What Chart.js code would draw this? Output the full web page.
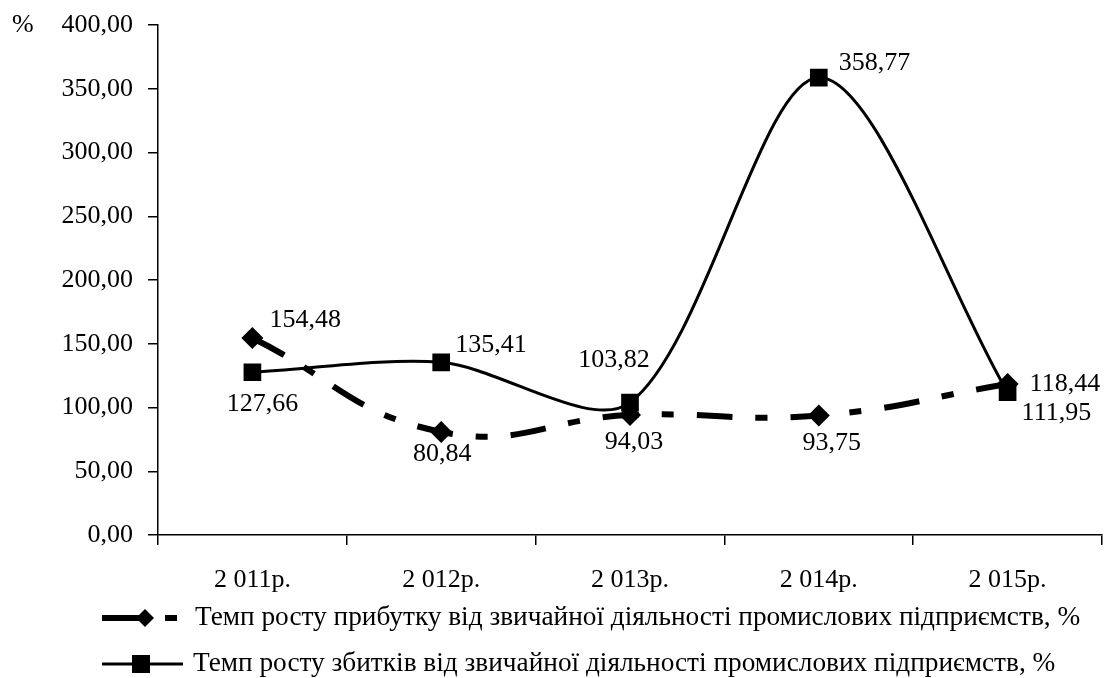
<!DOCTYPE html>
<html>
<head>
<meta charset="utf-8">
<script src="https://cdn.jsdelivr.net/npm/chart.js@4.4.0/dist/chart.umd.min.js"></script>
<style>
  html, body { margin: 0; padding: 0; background: #fff; overflow: hidden; }
  canvas { display: block; }
</style>
</head>
<body>
<canvas id="chart" width="1105" height="678"></canvas>
<script>
// Data
const years = ['2 011р.', '2 012р.', '2 013р.', '2 014р.', '2 015р.'];
const profitGrowth = [154.48, 80.84, 94.03, 93.75, 118.44];
const lossGrowth = [127.66, 135.41, 103.82, 358.77, 111.95];
const profitName = 'Темп росту прибутку від звичайної діяльності промислових підприємств, %';
const lossName = 'Темп росту збитків від звичайної діяльності промислових підприємств, %';
const yTicks = [0, 50, 100, 150, 200, 250, 300, 350, 400];

const FONT = "'Liberation Serif', 'Times New Roman', serif";
const fmt = v => v.toFixed(2).replace('.', ',');

Chart.defaults.font.family = FONT;
Chart.defaults.font.size = 26;
Chart.defaults.color = '#000';

// label offsets per point: [dx, dy, align]
const labelPos = [
  [[17, -18, 'left'], [1, 22, 'center'], [4, 27, 'center'], [13, 28, 'center'], [22, 0, 'left']],
  [[10, 32, 'center'], [14, -17, 'left'], [-16, -42, 'center'], [20, -14, 'left'], [14, 21, 'left']]
];

const valueLabels = {
  id: 'valueLabels',
  afterDatasetsDraw(chart) {
    const ctx = chart.ctx;
    ctx.save();
    ctx.font = '26px ' + FONT;
    ctx.fillStyle = '#000';
    ctx.textBaseline = 'middle';
    chart.data.datasets.forEach((ds, di) => {
      chart.getDatasetMeta(di).data.forEach((pt, i) => {
        const p = labelPos[di][i];
        ctx.textAlign = p[2];
        ctx.fillText(fmt(ds.data[i]), pt.x + p[0], pt.y + p[1]);
      });
    });
    ctx.restore();
  }
};

const extras = {
  id: 'extras',
  afterDraw(chart) {
    const ctx = chart.ctx;
    ctx.save();
    ctx.font = '26px ' + FONT;
    ctx.fillStyle = '#000';
    ctx.strokeStyle = '#000';
    ctx.textBaseline = 'middle';
    ctx.textAlign = 'left';
    ctx.fillText('%', 12, chart.scales.y.getPixelForValue(400));

    ctx.font = '27.3px ' + FONT;
    // legend row 1 (profit)
    let y = 618;
    ctx.lineWidth = 6;
    ctx.beginPath();
    ctx.moveTo(102, y); ctx.lineTo(143, y);
    ctx.moveTo(165, y); ctx.lineTo(177, y);
    ctx.stroke();
    ctx.beginPath();
    ctx.moveTo(145, y - 9); ctx.lineTo(154, y); ctx.lineTo(145, y + 9); ctx.lineTo(136, y);
    ctx.closePath(); ctx.fill();
    ctx.fillText(profitName, 195, y);

    // legend row 2 (loss)
    y = 664;
    ctx.lineWidth = 3;
    ctx.beginPath();
    ctx.moveTo(102, y); ctx.lineTo(183, y);
    ctx.stroke();
    ctx.fillRect(132, y - 9, 18, 18);
    ctx.fillText(lossName, 193, y);
    ctx.restore();
  }
};

new Chart(document.getElementById('chart'), {
  type: 'line',
  data: {
    labels: years,
    datasets: [{
      label: profitName,
      data: profitGrowth,
      borderColor: '#000',
      backgroundColor: '#000',
      borderWidth: 6,
      borderDash: [36, 23, 12, 23],
      borderCapStyle: 'butt',
      tension: 0.45,
      pointStyle: 'rectRot',
      pointRadius: 11,
      pointBorderWidth: 0
    }, {
      label: lossName,
      data: lossGrowth,
      borderColor: '#000',
      backgroundColor: '#000',
      borderWidth: 3,
      tension: 0.3,
      pointStyle: 'rect',
      pointRadius: 12.5,
      pointBorderWidth: 0
    }]
  },
  options: {
    responsive: false,
    animation: false,
    layout: { autoPadding: false, padding: { top: 25, right: 3, left: 0, bottom: 73 } },
    plugins: { legend: { display: false }, tooltip: { enabled: false } },
    scales: {
      x: {
        offset: true,
        afterFit: s => { s.height = 70; s.paddingLeft = 0; s.paddingRight = 0; },
        grid: { offset: true, drawOnChartArea: false, drawTicks: true, tickLength: 10, color: '#000', lineWidth: 1.5 },
        border: { display: true, color: '#000', width: 1.5 },
        ticks: { padding: 20, maxRotation: 0, font: { size: 26 } }
      },
      y: {
        min: 0,
        max: 400,
        afterFit: s => { s.width = 158; s.paddingTop = 0; s.paddingBottom = 0; },
        afterBuildTicks: s => { s.ticks = yTicks.map(v => ({ value: v })); },
        grid: { drawOnChartArea: false, drawTicks: true, tickLength: 10, color: '#000', lineWidth: 1.5 },
        border: { display: true, color: '#000', width: 1.5 },
        ticks: { padding: 15, callback: v => fmt(v), font: { size: 26 } }
      }
    }
  },
  plugins: [valueLabels, extras]
});
</script>
</body>
</html>
